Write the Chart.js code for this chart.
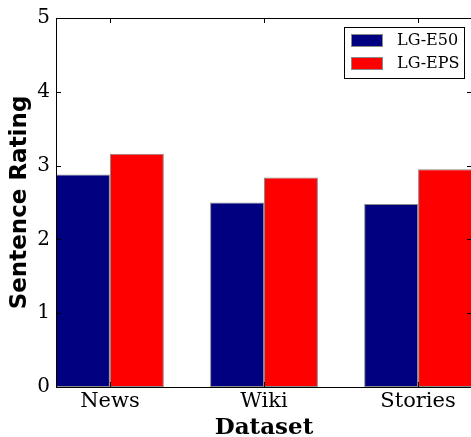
<!DOCTYPE html>
<html lang="en">
<head>
    <meta charset="UTF-8">
    <title>Sentence Rating</title>
    <style>
        body {
            margin: 0;
            padding: 0;
            background-color: #fff;
            overflow: hidden;
        }

        .chart-container {
            position: relative;
            width: 475px;
            height: 437px;
        }
    </style>
</head>
<body>
<div class="chart-container">
    <canvas id="ratingChart"></canvas>
</div>
<script src="https://cdn.jsdelivr.net/npm/chart.js"></script>
<script>
    const categories = ['News', 'Wiki', 'Stories'];
    const seriesNames = ['LG-E50', 'LG-EPS'];
    const e50Values = [2.88, 2.50, 2.48];
    const epsValues = [3.16, 2.84, 2.95];
    const yTicks = [0, 1, 2, 3, 4, 5];

    const serif = "'DejaVu Serif', serif";

    // matplotlib style: ticks pointing inward on every spine, plus the frame
    const frameAndTicks = {
        id: 'frameAndTicks',
        afterDatasetsDraw(chart) {
            const ctx = chart.ctx;
            const area = chart.chartArea;
            const xScale = chart.scales.x;
            const yScale = chart.scales.y;
            ctx.save();
            ctx.strokeStyle = '#000';
            ctx.lineWidth = 1;
            ctx.beginPath();
            yScale.ticks.forEach(t => {
                const y = Math.round(yScale.getPixelForValue(t.value)) + 0.5;
                ctx.moveTo(area.left, y);
                ctx.lineTo(area.left + 5, y);
                ctx.moveTo(area.right, y);
                ctx.lineTo(area.right - 5, y);
            });
            xScale.ticks.forEach(t => {
                const x = Math.round(xScale.getPixelForValue(t.value)) + 0.5;
                ctx.moveTo(x, area.bottom);
                ctx.lineTo(x, area.bottom - 5);
                ctx.moveTo(x, area.top);
                ctx.lineTo(x, area.top + 5);
            });
            ctx.stroke();
            ctx.strokeRect(Math.round(area.left) + 0.5, Math.round(area.top) + 0.5,
                Math.round(area.right - area.left), Math.round(area.bottom - area.top));
            ctx.restore();
        }
    };

    // legend box in the upper right corner of the plot
    const innerLegend = {
        id: 'innerLegend',
        afterDraw(chart) {
            const ctx = chart.ctx;
            const area = chart.chartArea;
            const boxW = 120, boxH = 51;
            const left = area.right - 8 - boxW;
            const top = area.top + 9;
            ctx.save();
            ctx.fillStyle = '#fff';
            ctx.fillRect(left, top, boxW, boxH);
            ctx.strokeStyle = '#000';
            ctx.lineWidth = 1;
            ctx.strokeRect(left + 0.5, top + 0.5, boxW, boxH);
            ctx.font = '16px ' + serif;
            ctx.textBaseline = 'middle';
            chart.data.datasets.forEach((ds, i) => {
                const cy = top + 13 + i * 23;
                ctx.fillStyle = ds.backgroundColor;
                ctx.fillRect(left + 7, cy - 6, 32, 13);
                ctx.strokeStyle = ds.borderColor;
                ctx.strokeRect(left + 7.5, cy - 5.5, 31, 12);
                ctx.fillStyle = '#000';
                ctx.fillText(ds.label, left + 53, cy + 1);
            });
            ctx.restore();
        }
    };

    new Chart(document.getElementById('ratingChart').getContext('2d'), {
        type: 'bar',
        data: {
            datasets: [{
                label: seriesNames[0],
                data: e50Values.map((v, i) => ({x: i, y: v})),
                backgroundColor: '#000080',
                borderColor: '#8a8a8a',
                borderWidth: 1,
                borderSkipped: false
            }, {
                label: seriesNames[1],
                data: epsValues.map((v, i) => ({x: i, y: v})),
                backgroundColor: '#ff0000',
                borderColor: '#8a8a8a',
                borderWidth: 1,
                borderSkipped: false
            }]
        },
        options: {
            responsive: true,
            maintainAspectRatio: false,
            animation: false,
            categoryPercentage: 0.7,
            barPercentage: 1,
            layout: {
                padding: {top: 18, right: 3, left: 0, bottom: 0}
            },
            plugins: {
                legend: {display: false},
                tooltip: {enabled: false}
            },
            scales: {
                x: {
                    type: 'linear',
                    offset: false,
                    min: -0.35,
                    max: 2.35,
                    afterBuildTicks: scale => {
                        scale.ticks = categories.map((c, i) => ({value: i}));
                    },
                    afterFit: scale => {
                        scale.height = 50;
                    },
                    grid: {display: false, drawTicks: false, offset: false},
                    border: {display: false},
                    ticks: {
                        padding: 2,
                        color: '#000',
                        font: {family: serif, size: 21},
                        callback: value => categories[value]
                    },
                    title: {
                        display: true,
                        text: 'Dataset',
                        color: '#000',
                        padding: {top: 0, bottom: 0},
                        font: {family: serif, size: 23, weight: 'bold', lineHeight: 0.8}
                    }
                },
                y: {
                    min: 0,
                    max: 5,
                    afterBuildTicks: scale => {
                        scale.ticks = yTicks.map(v => ({value: v}));
                    },
                    afterFit: scale => {
                        scale.width = 56;
                    },
                    grid: {display: false, drawTicks: false},
                    border: {display: false},
                    ticks: {
                        padding: 6,
                        color: '#000',
                        font: {family: serif, size: 20}
                    },
                    title: {
                        display: true,
                        text: 'Sentence Rating',
                        color: '#000',
                        padding: {top: 9, bottom: 0},
                        font: {family: "'DejaVu Sans', sans-serif", size: 23, weight: 'bold', lineHeight: 1}
                    }
                }
            }
        },
        plugins: [frameAndTicks, innerLegend]
    });
</script>
</body>
</html>
